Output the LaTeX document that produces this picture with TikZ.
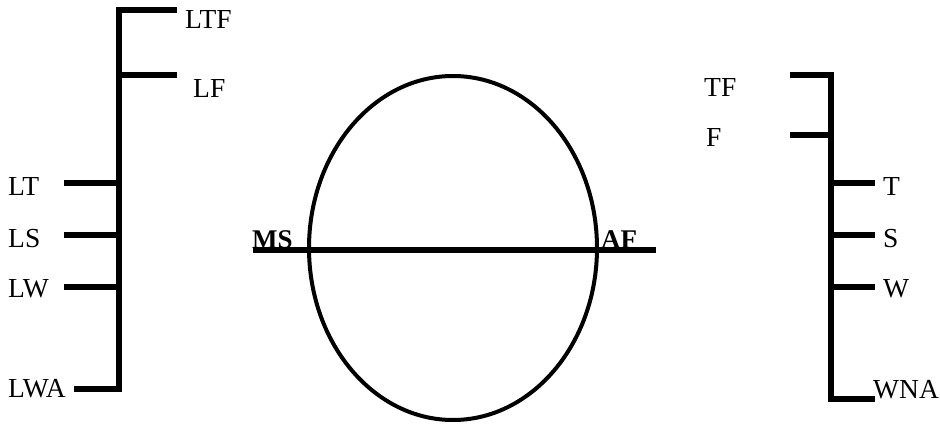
\documentclass[tikz,border=0pt]{standalone}
\usepackage{fontspec}
\setmainfont{Liberation Serif}
\usetikzlibrary{shapes.geometric}
\begin{document}
\begin{tikzpicture}[x=1pt,y=-1pt,
  bar/.style={line width=6pt,line join=miter},
  lbl/.style={inner sep=0pt,font=\fontsize{27.5}{30}\selectfont},
  blbl/.style={inner sep=0pt,font=\fontsize{27}{30}\selectfont\bfseries}]
\useasboundingbox (0,0) rectangle (940,428);
% left scale
\coordinate (ltop) at (119,10);
\coordinate (ltfe) at (177,10);
\coordinate (lbot) at (119,389);
\coordinate (lwae) at (74,389);
\coordinate (lfa) at (119,75);  \coordinate (lfb) at (177,75);
\coordinate (lta) at (119,183); \coordinate (ltb) at (64,183);
\coordinate (lsa) at (119,235); \coordinate (lsb) at (64,235);
\coordinate (lwa) at (119,287); \coordinate (lwb) at (64,287);
\draw[bar] (ltfe) -- (ltop) -- (lbot) -- (lwae);
\draw[bar] (lfa) -- (lfb);
\draw[bar] (lta) -- (ltb);
\draw[bar] (lsa) -- (lsb);
\draw[bar] (lwa) -- (lwb);
\node[lbl,anchor=base west] (LTF) at (185,29) {LTF};
\node[lbl,anchor=base west] (LF) at (193,97) {LF};
\node[lbl,anchor=base west] (LT) at (8,195) {LT};
\node[lbl,anchor=base west] (LS) at (8,247) {LS};
\node[lbl,anchor=base west] (LW) at (8,297) {LW};
\node[lbl,anchor=base west] (LWA) at (8,397) {LWA};
% centre
\node[draw,line width=4pt,ellipse,minimum width=288pt,minimum height=344pt,inner sep=0pt] (ell) at (453,248) {};
\coordinate (msl) at (253,250);
\coordinate (afr) at (656,250);
\draw[bar] (msl) -- (afr);
\node[blbl,anchor=base west] (MS) at (252,248) {MS};
\node[blbl,anchor=base west] (AF) at (601,248) {AF};
% right scale
\coordinate (rtop) at (831,75);
\coordinate (rtfe) at (790,75);
\coordinate (rbot) at (831,399);
\coordinate (rwne) at (875,399);
\coordinate (rfa) at (831,135); \coordinate (rfb) at (790,135);
\coordinate (rta) at (831,183); \coordinate (rtb) at (875,183);
\coordinate (rsa) at (831,235); \coordinate (rsb) at (875,235);
\coordinate (rwa) at (831,287); \coordinate (rwb) at (875,287);
\draw[bar] (rtfe) -- (rtop) -- (rbot) -- (rwne);
\draw[bar] (rfa) -- (rfb);
\draw[bar] (rta) -- (rtb);
\draw[bar] (rsa) -- (rsb);
\draw[bar] (rwa) -- (rwb);
\node[lbl,anchor=base west] (TF) at (704,96) {TF};
\node[lbl,anchor=base west] (F) at (706,146) {F};
\node[lbl,anchor=base west] (T) at (883,195) {T};
\node[lbl,anchor=base west] (S) at (883,247) {S};
\node[lbl,anchor=base west] (W) at (883,297) {W};
\node[lbl,anchor=base west] (WNA) at (873,398) {WNA};
\end{tikzpicture}
\end{document}
